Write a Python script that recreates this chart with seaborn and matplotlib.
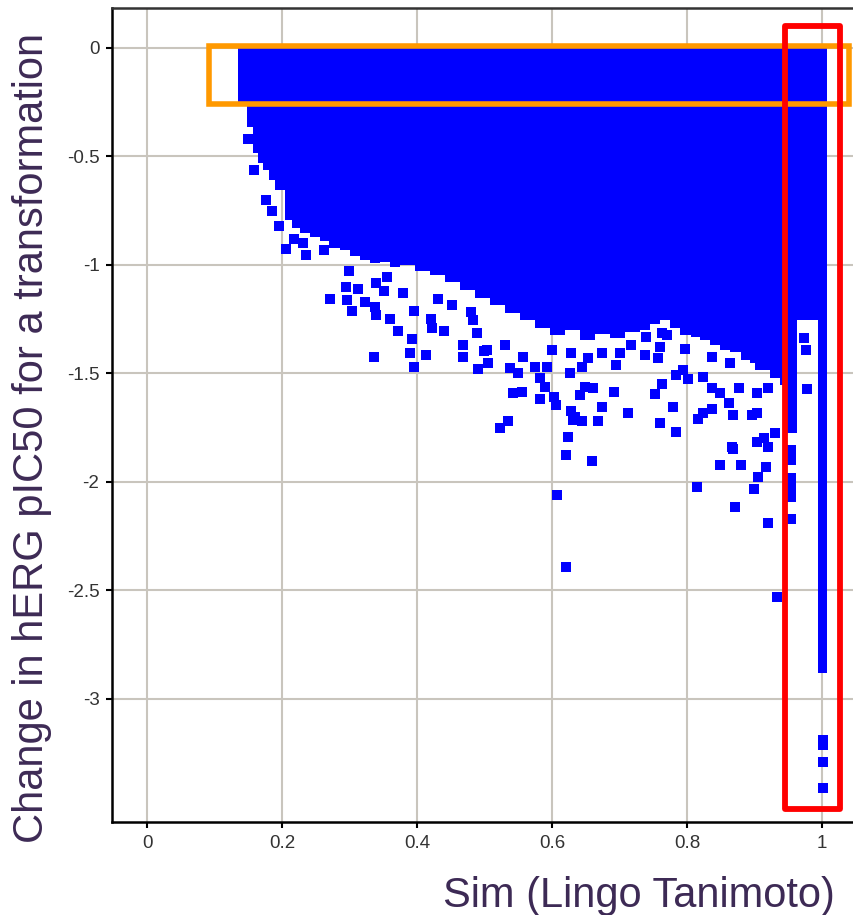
import numpy as np
import pandas as pd
import matplotlib
matplotlib.use("Agg")
import matplotlib.pyplot as plt
import seaborn as sns
from matplotlib.patches import Rectangle

# Dense cloud of transformations: outline of the solid blue region (x, lower edge)
env_x = [0.135, 0.148, 0.157, 0.164, 0.172, 0.181, 0.190, 0.204, 0.215, 0.227,
         0.241, 0.256, 0.270, 0.286, 0.300, 0.316, 0.330, 0.345, 0.360, 0.375,
         0.397, 0.419, 0.441, 0.464, 0.486, 0.508, 0.530, 0.553, 0.575, 0.597,
         0.619, 0.641, 0.664, 0.686, 0.708, 0.730, 0.745, 0.760, 0.775, 0.790,
         0.805, 0.819, 0.834, 0.849, 0.864, 0.879, 0.893, 0.908, 0.923, 0.938,
         0.948, 0.963, 0.993, 1.007]
env_lo = [-0.253, -0.364, -0.484, -0.530, -0.562, -0.610, -0.654, -0.793, -0.830, -0.853,
          -0.870, -0.890, -0.920, -0.930, -0.960, -0.975, -0.990, -0.986, -1.010, -1.000,
          -1.030, -1.046, -1.080, -1.115, -1.150, -1.184, -1.220, -1.253, -1.290, -1.323,
          -1.300, -1.346, -1.320, -1.336, -1.310, -1.300, -1.270, -1.253, -1.290, -1.323,
          -1.330, -1.346, -1.370, -1.392, -1.400, -1.438, -1.450, -1.484, -1.520, -1.553,
          -1.774, -1.253, -2.880, -2.880]

# Sparse transformations below the dense cloud
sim = [0.206, 0.236, 0.271, 0.295, 0.296, 0.304, 0.313, 0.323, 0.338, 0.339,
       0.339, 0.356, 0.351, 0.360, 0.372, 0.336, 0.393, 0.390, 0.396, 0.413,
       0.396, 0.421, 0.422, 0.440, 0.431, 0.452, 0.468, 0.468, 0.480, 0.483,
       0.489, 0.499, 0.505, 0.490, 0.379, 0.299, 0.504, 0.530, 0.538, 0.550,
       0.542, 0.556, 0.523, 0.535, 0.557, 0.575, 0.593, 0.600, 0.582, 0.590,
       0.582, 0.603, 0.606, 0.628, 0.627, 0.628, 0.631, 0.644, 0.624, 0.641,
       0.649, 0.661, 0.644, 0.653, 0.674, 0.695, 0.701, 0.717, 0.692, 0.674,
       0.668, 0.713, 0.739, 0.738, 0.756, 0.763, 0.770, 0.784, 0.763, 0.753,
       0.779, 0.760, 0.784, 0.621, 0.659, 0.607, 0.621, 0.634, 0.760, 0.797,
       0.794, 0.801, 0.824, 0.837, 0.837, 0.849, 0.862, 0.876, 0.868, 0.904,
       0.920, 0.896, 0.904, 0.824, 0.816, 0.837, 0.978, 0.913, 0.904, 0.919,
       0.930, 0.867, 0.864, 0.908, 0.868, 0.849, 0.880, 0.916, 0.905, 0.815,
       0.899, 0.871, 0.919, 0.933, 0.954, 0.954, 0.954, 0.954, 0.954, 0.954,
       1.001, 1.001, 1.001, 1.001, 0.973, 0.976, 0.150, 0.158, 0.176, 0.185,
       0.196, 0.218, 0.231, 0.262]
delta = [-0.926, -0.954, -1.157, -1.101, -1.161, -1.212, -1.111, -1.171, -1.194, -1.230,
         -1.083, -1.055, -1.120, -1.249, -1.304, -1.424, -1.341, -1.406, -1.470, -1.415,
         -1.212, -1.249, -1.290, -1.304, -1.157, -1.184, -1.369, -1.424, -1.217, -1.253,
         -1.313, -1.396, -1.452, -1.479, -1.129, -1.028, -1.392, -1.369, -1.475, -1.498,
         -1.590, -1.585, -1.751, -1.719, -1.424, -1.470, -1.470, -1.392, -1.521, -1.562,
         -1.618, -1.608, -1.645, -1.406, -1.498, -1.673, -1.714, -1.719, -1.793, -1.599,
         -1.562, -1.567, -1.470, -1.429, -1.406, -1.461, -1.406, -1.369, -1.585, -1.654,
         -1.719, -1.682, -1.332, -1.415, -1.429, -1.313, -1.323, -1.507, -1.548, -1.594,
         -1.654, -1.728, -1.770, -1.876, -1.903, -2.060, -2.392, -1.700, -1.378, -1.387,
         -1.484, -1.525, -1.516, -1.424, -1.567, -1.590, -1.636, -1.567, -1.691, -1.590,
         -1.567, -1.691, -1.682, -1.682, -1.710, -1.664, -1.571, -1.797, -1.816, -1.839,
         -1.774, -1.839, -1.452, -1.461, -1.848, -1.922, -1.922, -1.931, -1.977, -2.023,
         -2.032, -2.115, -2.189, -2.530, -1.853, -1.899, -1.982, -2.028, -2.069, -2.171,
         -3.19, -3.21, -3.29, -3.41, -1.336, -1.392, -0.420, -0.560, -0.700, -0.750,
         -0.820, -0.880, -0.900, -0.930]

x_ticks = [0, 0.2, 0.4, 0.6, 0.8, 1]
x_ticklabels = ["0", "0.2", "0.4", "0.6", "0.8", "1"]
y_ticks = [0, -0.5, -1, -1.5, -2, -2.5, -3]
y_ticklabels = ["0", "-0.5", "-1", "-1.5", "-2", "-2.5", "-3"]

BLUE = "#0000ff"
LABEL_COLOR = "#3d2a55"

sns.set_style("white")
plt.rcParams['font.family'] = ['Liberation Sans', 'DejaVu Sans']

fig = plt.figure(figsize=(8.54, 9.15), dpi=100)
ax = fig.add_axes([0.1311, 0.1016, 0.8689, 0.8896])

ax.fill_between(env_x, env_lo, 0.0, step="post", color=BLUE, linewidth=0, zorder=3)

df = pd.DataFrame({"sim": sim, "delta": delta})
sns.scatterplot(data=df, x="sim", y="delta", marker="s", s=52, color=BLUE,
                linewidth=0, ax=ax, zorder=4)

ax.set_xlim(-0.052, 1.047)
ax.set_ylim(-3.567, 0.184)
ax.set_xticks(x_ticks)
ax.set_xticklabels(x_ticklabels)
ax.set_yticks(y_ticks)
ax.set_yticklabels(y_ticklabels)
ax.grid(True, color="#c9c5bd", linewidth=1.5, zorder=0)
ax.set_axisbelow(True)
ax.tick_params(axis="both", direction="out", length=4, width=1.5, color="black",
               labelsize=13.5, labelcolor="#333333", pad=5)
ax.tick_params(axis="both", bottom=True, left=True)
ax.set_xlabel("")
ax.set_ylabel("")

for side in ["left", "bottom"]:
    ax.spines[side].set_color("black")
    ax.spines[side].set_linewidth(1.8)
ax.spines["top"].set_color("#333333")
ax.spines["top"].set_linewidth(1.8)
ax.spines["right"].set_visible(False)

# highlight boxes
ax.add_patch(Rectangle((0.092, -0.258), 0.948, 0.267, fill=False,
                       edgecolor="#ff9900", linewidth=4, zorder=5, clip_on=False))
ax.add_patch(Rectangle((0.945, -3.507), 0.082, 3.608, fill=False,
                       edgecolor="#ff0000", linewidth=4.2, joinstyle="round",
                       zorder=6, clip_on=False))

fig.text(32 / 854, 0.521, "Change in hERG pIC50 for a transformation", rotation=90,
         ha="center", va="center", fontsize=30, color=LABEL_COLOR)
fig.text(0.978, 0.021, "Sim (Lingo Tanimoto)", ha="right", va="center",
         fontsize=30, color=LABEL_COLOR)

fig.savefig("out.png", dpi=100)
